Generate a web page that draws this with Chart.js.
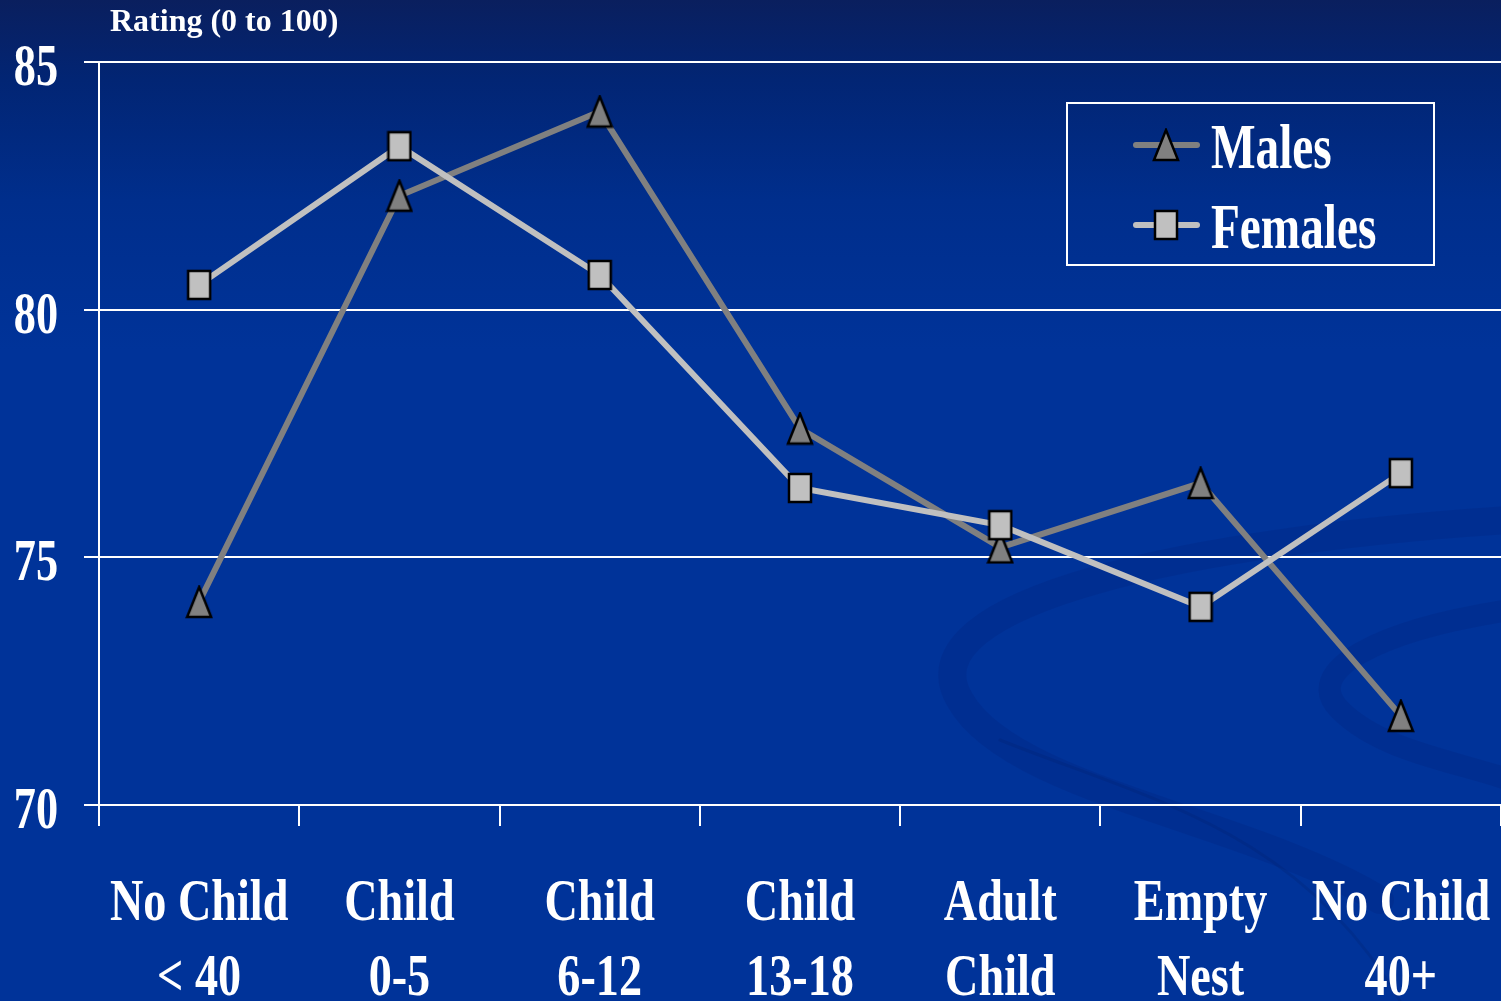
<!DOCTYPE html>
<html><head><meta charset="utf-8">
<script src="https://cdn.jsdelivr.net/npm/chart.js@4/dist/chart.umd.min.js"></script>
<style>html,body{margin:0;padding:0;background:#003399;overflow:hidden}
#wrap{width:1501px;height:1001px;position:relative}</style></head>
<body><div id="wrap"><canvas id="c" width="1501" height="1001"></canvas></div>
<script>
const categories = [["No Child","< 40"],["Child","0-5"],["Child","6-12"],["Child","13-18"],["Adult","Child"],["Empty","Nest"],["No Child","40+"]];
const males = [74.1, 82.3, 84.0, 77.6, 75.2, 76.5, 71.8];
const females = [80.5, 83.3, 80.7, 76.4, 75.65, 74.0, 76.7];
const yTicks = [70, 75, 80, 85];
const seriesNames = ["Males", "Females"];
const axisTitle = "Rating (0 to 100)";

const FONT = '"Liberation Serif", "Times New Roman", serif';

function triMarker(){
  const c=document.createElement('canvas'); c.width=28; c.height=34;
  const g=c.getContext('2d');
  g.beginPath(); g.moveTo(14,2); g.lineTo(26,32); g.lineTo(2,32); g.closePath();
  g.fillStyle='#808080'; g.fill(); g.lineWidth=2.5; g.strokeStyle='#000'; g.lineJoin='miter'; g.stroke();
  return c;
}
function rectMarker(){
  const c=document.createElement('canvas'); c.width=26; c.height=32;
  const g=c.getContext('2d');
  g.fillStyle='#c0c0c0'; g.fillRect(2,2,22,28);
  g.lineWidth=2.5; g.strokeStyle='#000'; g.strokeRect(2,2,22,28);
  return c;
}
const triImg = triMarker(), rectImg = rectMarker();

function condensed(ctx, text, x, y, size, sx, align){
  ctx.save();
  ctx.translate(x,y); ctx.scale(sx,1);
  ctx.font = 'bold ' + size + 'px ' + FONT;
  ctx.textAlign = align; ctx.textBaseline = 'alphabetic';
  ctx.fillStyle = '#ffffff';
  ctx.fillText(text,0,0);
  ctx.restore();
}

const bgPlugin = {
  id:'bg',
  beforeDraw(chart){
    const ctx=chart.ctx, W=chart.width, H=chart.height;
    ctx.save();
    const g=ctx.createLinearGradient(0,0,0,H);
    g.addColorStop(0,'#0a1f5e');
    g.addColorStop(0.08,'#022574');
    g.addColorStop(0.2,'#002e8c');
    g.addColorStop(0.35,'#003399');
    g.addColorStop(1,'#003399');
    ctx.fillStyle=g; ctx.fillRect(0,0,W,H);
    // decorative swirl
    ctx.lineCap='round';
    ctx.strokeStyle='rgba(0,30,110,0.18)';
    ctx.lineWidth=28;
    ctx.beginPath();
    ctx.moveTo(1510,520);
    ctx.bezierCurveTo(1200,540,900,600,960,700);
    ctx.bezierCurveTo(1010,790,1250,820,1380,900);
    ctx.stroke();
    ctx.lineWidth=22;
    ctx.beginPath();
    ctx.moveTo(1510,610);
    ctx.bezierCurveTo(1380,630,1300,670,1340,710);
    ctx.bezierCurveTo(1380,750,1450,760,1510,780);
    ctx.stroke();
    ctx.lineWidth=3;
    ctx.strokeStyle='rgba(0,30,100,0.2)';
    ctx.beginPath();
    ctx.moveTo(1000,740);
    ctx.bezierCurveTo(1150,800,1300,830,1400,1001);
    ctx.stroke();
    ctx.restore();
  }
};

const textPlugin = {
  id:'texts',
  afterDraw(chart){
    const ctx=chart.ctx, x=chart.scales.x, y=chart.scales.y, ca=chart.chartArea;
    // title
    ctx.save();
    ctx.font='bold 32px '+FONT; ctx.fillStyle='#fff'; ctx.textAlign='left'; ctx.textBaseline='alphabetic';
    ctx.fillText(axisTitle, 110, 31);
    ctx.restore();
    // y labels
    yTicks.forEach(v=>{
      condensed(ctx, String(v), ca.left-41, y.getPixelForValue(v)+23, 59, 0.75, 'right');
    });
    // x labels
    categories.forEach((lab,i)=>{
      const px = x.getPixelForTick(i);
      condensed(ctx, lab[0], px, ca.bottom+115, 60, 0.77, 'center');
      condensed(ctx, lab[1], px, ca.bottom+190, 60, 0.77, 'center');
    });
    // legend
    ctx.save();
    ctx.strokeStyle='#fff'; ctx.lineWidth=2;
    ctx.strokeRect(1067,103,367,162);
    const ds = chart.data.datasets;
    const rows = [ds[0], ds[1]];
    rows.forEach((d,i)=>{
      const cy = 145 + i*80;
      ctx.strokeStyle=d.borderColor; ctx.lineWidth=6; ctx.lineCap='round';
      ctx.beginPath(); ctx.moveTo(1136,cy); ctx.lineTo(1197,cy); ctx.stroke();
      const img=d.pointStyle;
      ctx.drawImage(img, 1166-img.width/2, cy-img.height/2);
      condensed(ctx, d.label, 1211, cy+23, 63, 0.75, 'left');
    });
    ctx.restore();
  }
};

new Chart(document.getElementById('c'), {
  type:'line',
  data:{
    labels: categories.map(c=>c.join(' ')),
    datasets:[
      {label:seriesNames[0], data:males, borderColor:'#808080', borderWidth:6, pointStyle:triImg, order:1, tension:0},
      {label:seriesNames[1], data:females, borderColor:'#c0c0c0', borderWidth:6, pointStyle:rectImg, order:0, tension:0}
    ]
  },
  options:{
    responsive:false, animation:false, devicePixelRatio:1,
    layout:{autoPadding:false, padding:{left:84, top:62, right:0, bottom:175}},
    plugins:{legend:{display:false}, tooltip:{enabled:false}, title:{display:false}},
    scales:{
      x:{
        offset:true,
        ticks:{display:false},
        grid:{drawOnChartArea:false, drawTicks:true, tickLength:21, color:'#ffffff', lineWidth:2, offset:true},
        border:{display:true, color:'#ffffff', width:2}
      },
      y:{
        min:70, max:85,
        ticks:{display:false, stepSize:5},
        grid:{drawOnChartArea:true, drawTicks:true, tickLength:15, color:'#ffffff', lineWidth:2},
        border:{display:true, color:'#ffffff', width:2}
      }
    }
  },
  plugins:[bgPlugin, textPlugin]
});
</script></body></html>
